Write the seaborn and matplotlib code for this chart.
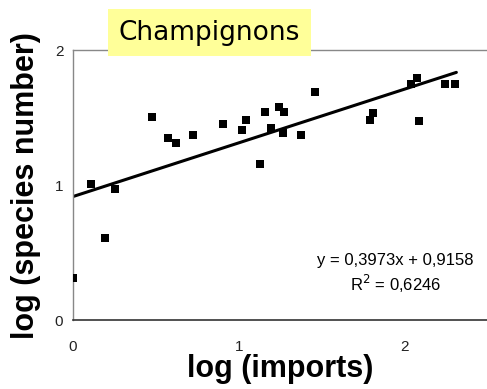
import numpy as np
import pandas as pd
import matplotlib
matplotlib.use("Agg")
import matplotlib.pyplot as plt
import seaborn as sns

# data
log_imports = [0.00, 0.107, 0.193, 0.255, 0.478, 0.576, 0.622, 0.725, 0.908,
               1.018, 1.046, 1.128, 1.157, 1.197, 1.243, 1.267, 1.277, 1.378,
               1.462, 1.793, 1.813, 2.044, 2.080, 2.090, 2.247, 2.305]
log_species = [0.31, 1.005, 0.61, 0.97, 1.506, 1.35, 1.316, 1.373, 1.45,
               1.412, 1.48, 1.158, 1.543, 1.42, 1.58, 1.387, 1.543, 1.375,
               1.687, 1.48, 1.536, 1.746, 1.795, 1.474, 1.748, 1.748]
slope = 0.3973
intercept = 0.9158
r2 = 0.6246
title = "Champignons"
xticks = [0, 1, 2]
yticks = [0, 1, 2]

df = pd.DataFrame({"x": log_imports, "y": log_species})
xs = np.array([min(log_imports), max(log_imports) + 0.01])
fit = pd.DataFrame({"x": xs, "y": slope * xs + intercept})

sns.set_style("white")
plt.rcParams["font.family"] = ["Liberation Sans", "DejaVu Sans"]
plt.rcParams["text.color"] = "black"
plt.rcParams["axes.labelcolor"] = "black"

fig = plt.figure(figsize=(4.87, 3.89), dpi=100)
ax = fig.add_axes([0.150, 0.177, 0.85, 0.694])

sns.lineplot(data=fit, x="x", y="y", color="black", linewidth=2.2, ax=ax)
sns.scatterplot(data=df, x="x", y="y", marker="s", s=36, color="black",
                edgecolor="black", linewidth=0, ax=ax, zorder=3)

ax.set_xlim(0, 2.5)
ax.set_ylim(0, 2)
ax.set_xticks(xticks)
ax.set_yticks(yticks)
ax.tick_params(axis="both", labelsize=11, colors="#222222", length=3,
               direction="out")
ax.tick_params(axis="x", pad=11)
ax.tick_params(axis="y", pad=4)

for side in ["left", "top"]:
    ax.spines[side].set_color("#888888")
    ax.spines[side].set_linewidth(1.0)
ax.spines["bottom"].set_color("#333333")
ax.spines["bottom"].set_linewidth(1.2)
ax.spines["right"].set_visible(False)

ax.set_xlabel("log (imports)", fontsize=22, fontweight="bold", labelpad=0)
ax.set_ylabel("log (species number)", fontsize=22, fontweight="bold", labelpad=10)

ax.text(1.946, 0.444, f"y = {slope:.4f}x + {intercept:.4f}".replace(".", ","),
        ha="center", va="center", fontsize=12)
ax.text(1.946, 0.267, f"R$^2$ = {r2:.4f}".replace(".", ","),
        ha="center", va="center", fontsize=12)

fig.text(0.430, 0.916, title, ha="center", va="center", fontsize=19,
         family="DejaVu Sans",
         bbox=dict(boxstyle="square,pad=0.4", facecolor="#ffff99",
                   edgecolor="none"))

fig.savefig("out.png", dpi=100)
